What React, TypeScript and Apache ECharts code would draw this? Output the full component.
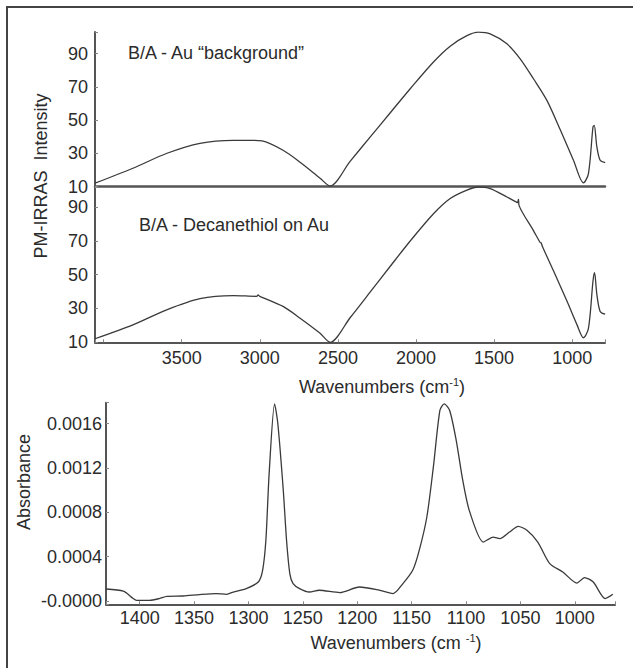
import React, { useEffect, useRef } from "react";
import * as echarts from "echarts";

// Panel 1: B/A - Au "background"
const auWavenumbers = [4055, 3812, 3594, 3383, 3171, 3063, 2986, 2851, 2742, 2614, 2550, 2422, 2294, 2166, 2037, 1888, 1781, 1674, 1600, 1525, 1418, 1333, 1248, 1162, 1075, 992, 928, 896, 867, 859, 842, 821, 789];
const auIntensity = [12.1, 21.1, 30.1, 36.1, 37.9, 37.9, 37.5, 31.9, 24.7, 15.1, 10.4, 25.2, 39.8, 54.3, 68.9, 85.0, 94.5, 100.8, 102.9, 101.9, 95.9, 86.9, 74.9, 61.9, 43.9, 25.9, 12.3, 17.9, 45.9, 46.9, 33.9, 25.9, 24.5];

// Panel 2: B/A - Decanethiol on Au
const decWavenumbers = [4055, 3812, 3596, 3383, 3169, 3020, 3011, 3000, 2851, 2742, 2614, 2550, 2422, 2294, 2166, 2037, 1888, 1781, 1674, 1600, 1525, 1418, 1359, 1350, 1344, 1340, 1248, 1205, 1199, 1190, 1119, 1033, 969, 928, 896, 867, 857, 842, 821, 789];
const decIntensity = [12.1, 20.3, 29.2, 35.8, 37.6, 37.2, 38.0, 37.2, 31.2, 24.2, 15.3, 10.0, 24.5, 39.6, 54.8, 69.9, 86.0, 95.0, 100.0, 101.8, 100.9, 95.9, 93.0, 92.6, 94.4, 90.8, 76.0, 69.0, 68.8, 66.5, 52.1, 34.2, 20.3, 12.7, 18.2, 46.1, 51.1, 38.2, 28.2, 26.6];

// Panel 3: absorbance spectrum
const absWavenumbers = [1431, 1415, 1406, 1403, 1391, 1382, 1375, 1360, 1345, 1330, 1320, 1314, 1302, 1291, 1287, 1284, 1281, 1276, 1273, 1268, 1265, 1262, 1259, 1253, 1244, 1235, 1216, 1198, 1182, 1167, 1158, 1149, 1143, 1136, 1130, 1124, 1120, 1115, 1109, 1103, 1097, 1084, 1075, 1069, 1060, 1052, 1044, 1034, 1023, 1011, 998, 991, 983, 972, 965];
const absorbance = [0.000108, 0.000088, 0.000022, 0.000006, 0.000006, 0.000022, 0.000042, 0.000045, 0.000058, 0.000067, 0.00006, 0.000081, 0.000112, 0.000171, 0.000277, 0.000548, 0.00115, 0.00178, 0.0016, 0.001, 0.000548, 0.000247, 0.000157, 0.000112, 0.000081, 0.000097, 0.000076, 0.000126, 0.000103, 0.000067, 0.000157, 0.000277, 0.000457, 0.000758, 0.00121, 0.00172, 0.00178, 0.00172, 0.00145, 0.00109, 0.000818, 0.000532, 0.000577, 0.000563, 0.000622, 0.000674, 0.000638, 0.000532, 0.000337, 0.000262, 0.000162, 0.000211, 0.000171, 0.000022, 0.00006];

const intensityTicks = [10, 30, 50, 70, 90];
const topXTicks = [3500, 3000, 2500, 2000, 1500, 1000];
const absTicks = [0, 0.0004, 0.0008, 0.0012, 0.0016];

const FONT = "'Liberation Sans', Arial, sans-serif";
const TXT = "#2b2b2b";
const LINE = "#3a3a3a";
const AXIS = "#555";

function pairs(xs: number[], ys: number[]) {
  return xs.map((x, i) => [x, ys[i]]);
}

export default function App() {
  const ref = useRef<HTMLDivElement>(null);
  useEffect(() => {
    if (!ref.current) return;
    const chart = echarts.init(ref.current, undefined, { renderer: "svg" });
    const labelStyle = { color: TXT, fontSize: 18, fontFamily: FONT };
    const tick = { show: true, inside: true, length: 3, lineStyle: { color: "#888", width: 1 } };
    const intensityFormatter = (v: number) => (intensityTicks.some((t) => Math.abs(t - v) < 1e-6) ? String(v) : "");
    chart.setOption({
      animation: false,
      backgroundColor: "#fff",
      grid: [
        { left: 95, top: 32, width: 510, height: 154.7 },
        { left: 95, top: 187, width: 510, height: 155.3 },
        { left: 106, top: 402.7, width: 509, height: 201.6 },
      ],
      xAxis: [
        {
          type: "value", gridIndex: 0, inverse: true, min: 790, max: 4055,
          minInterval: 500, maxInterval: 500,
          axisLine: { show: true, onZero: false, lineStyle: { color: AXIS, width: 2.5 } },
          axisTick: { show: false }, axisLabel: { show: false }, splitLine: { show: false },
        },
        {
          type: "value", gridIndex: 1, inverse: true, min: 790, max: 4055,
          minInterval: 500, maxInterval: 500,
          axisLine: { show: true, onZero: false, lineStyle: { color: AXIS, width: 2 } },
          axisTick: tick,
          axisLabel: {
            ...labelStyle, margin: 7, showMinLabel: true, showMaxLabel: true,
            formatter: (v: number) => (topXTicks.some((t) => Math.abs(t - v) < 1e-6) ? String(v) : ""),
          },
          splitLine: { show: false },
        },
        {
          type: "value", gridIndex: 2, inverse: true, min: 963, max: 1431,
          minInterval: 50, maxInterval: 50,
          axisLine: { show: true, onZero: false, lineStyle: { color: AXIS, width: 2 } },
          axisTick: tick,
          axisLabel: {
            ...labelStyle, margin: 5,
            formatter: (v: number) => (Math.abs(v % 50) < 1e-6 && v >= 1000 && v <= 1400 ? String(v) : ""),
          },
          splitLine: { show: false },
        },
      ],
      yAxis: [
        {
          type: "value", gridIndex: 0, min: 10, max: 103, interval: 20,
          axisLine: { show: true, onZero: false, lineStyle: { color: AXIS, width: 2 } },
          axisTick: tick,
          axisLabel: { ...labelStyle, margin: 7, formatter: intensityFormatter },
          splitLine: { show: false },
        },
        {
          type: "value", gridIndex: 1, min: 10, max: 101.8, interval: 20,
          axisLine: { show: true, onZero: false, lineStyle: { color: AXIS, width: 2 } },
          axisTick: tick,
          axisLabel: { ...labelStyle, margin: 7, formatter: intensityFormatter },
          splitLine: { show: false },
        },
        {
          type: "value", gridIndex: 2, min: -0.00003, max: 0.00179,
          minInterval: 0.0004, maxInterval: 0.0004,
          axisLine: { show: true, onZero: false, lineStyle: { color: AXIS, width: 2 } },
          axisTick: tick,
          axisLabel: {
            ...labelStyle, margin: 4,
            formatter: (v: number) => {
              if (Math.abs(v) < 1e-9) return "-0.0000";
              return absTicks.some((t) => Math.abs(t - v) < 1e-9) ? v.toFixed(4) : "";
            },
          },
          splitLine: { show: false },
        },
      ],
      series: [
        {
          type: "line", xAxisIndex: 0, yAxisIndex: 0, data: pairs(auWavenumbers, auIntensity),
          showSymbol: false, smooth: 0.3, lineStyle: { color: LINE, width: 1.3 },
        },
        {
          type: "line", xAxisIndex: 1, yAxisIndex: 1, data: pairs(decWavenumbers, decIntensity),
          showSymbol: false, smooth: 0.3, lineStyle: { color: LINE, width: 1.3 },
        },
        {
          type: "line", xAxisIndex: 2, yAxisIndex: 2, data: pairs(absWavenumbers, absorbance),
          showSymbol: false, smooth: 0.25, lineStyle: { color: LINE, width: 1.3 },
        },
      ],
      graphic: [
        {
          type: "rect", z: -1, silent: true,
          shape: { x: 7, y: 7, width: 700, height: 700 },
          style: { fill: "none", stroke: "#444", lineWidth: 2 },
        },
        {
          type: "text", x: 128, y: 53,
          style: { text: "B/A - Au \u201Cbackground\u201D", fill: TXT, font: `18px ${FONT}`, align: "left", verticalAlign: "middle" },
        },
        {
          type: "text", x: 139, y: 225,
          style: { text: "B/A - Decanethiol on Au", fill: TXT, font: `18px ${FONT}`, align: "left", verticalAlign: "middle" },
        },
        {
          type: "text", x: 41, y: 176, rotation: Math.PI / 2,
          style: { text: "PM-IRRAS  Intensity", fill: TXT, font: `18px ${FONT}`, align: "center", verticalAlign: "middle" },
        },
        {
          type: "text", x: 24, y: 482, rotation: Math.PI / 2,
          style: { text: "Absorbance", fill: TXT, font: `18px ${FONT}`, align: "center", verticalAlign: "middle" },
        },
        {
          type: "text", x: 382, y: 387,
          style: {
            text: "{a|Wavenumbers (cm}{s|-1}{a|)}", align: "center", verticalAlign: "middle",
            rich: {
              a: { fontSize: 18, fontFamily: FONT, fill: TXT, lineHeight: 22 },
              s: { fontSize: 11, fontFamily: FONT, fill: TXT, lineHeight: 13, verticalAlign: "top" },
            },
          },
        },
        {
          type: "text", x: 396, y: 643,
          style: {
            text: "{a|Wavenumbers (cm }{s|-1}{a|)}", align: "center", verticalAlign: "middle",
            rich: {
              a: { fontSize: 18, fontFamily: FONT, fill: TXT, lineHeight: 22 },
              s: { fontSize: 11, fontFamily: FONT, fill: TXT, lineHeight: 13, verticalAlign: "top" },
            },
          },
        },
      ],
    });
    return () => chart.dispose();
  }, []);
  return (
    <div
      ref={ref}
      style={{ position: "fixed", left: 0, top: 0, width: 633, height: 668, background: "#fff" }}
    />
  );
}
